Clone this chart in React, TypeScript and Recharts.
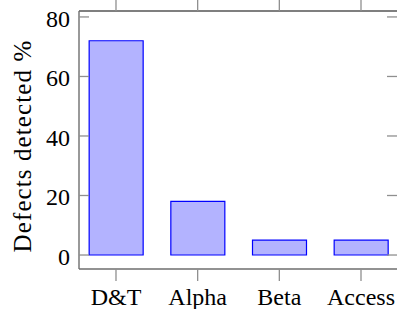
import React from "react";
import { BarChart, Bar, XAxis, YAxis } from "recharts";

const categories = ["D&T", "Alpha", "Beta", "Access"];
const defectsDetected = [72, 18, 5, 5];
const xPositions = [0, 1, 2, 3];
const yTicks = [0, 20, 40, 60, 80];

const data = categories.map((name, i) => ({ pos: xPositions[i], name, value: defectsDetected[i] }));

const FONT = '"Liberation Serif", "Times New Roman", serif';
const AXIS_GRAY = "#6e6e6e";
const TICK_GRAY = "#8f8f8f";

function LeftTick(props: any) {
  const { x, y, payload } = props;
  return (
    <g>
      <line x1={x} y1={y} x2={x + 10} y2={y} stroke={TICK_GRAY} strokeWidth={1.3} />
      <text x={x - 9} y={y + 10} textAnchor="end" fontFamily={FONT} fontSize={24} fill="#000">
        {payload.value}
      </text>
    </g>
  );
}

function RightTick(props: any) {
  const { x, y } = props;
  return <line x1={x - 11} y1={y} x2={x} y2={y} stroke={TICK_GRAY} strokeWidth={1.3} />;
}

function TopTick(props: any) {
  const { x, y } = props;
  return <line x1={x} y1={y} x2={x} y2={y - 11} stroke={TICK_GRAY} strokeWidth={1.3} />;
}

function BottomTick(props: any) {
  const { x, y, payload } = props;
  return (
    <text x={x} y={y + 24} textAnchor="middle" fontFamily={FONT} fontSize={24} fill="#000">
      {categories[payload.value]}
    </text>
  );
}

function YLabel() {
  return (
    <text
      transform="translate(31,146) rotate(-90)"
      textAnchor="middle"
      fontFamily={FONT}
      fontSize={25}
      letterSpacing={1.1}
      fill="#000"
    >
      Defects detected %
    </text>
  );
}

export default function App() {
  return (
    <div style={{ position: "absolute", left: 0, top: 0, width: 397, height: 309, overflow: "hidden", background: "#fff" }}>
      <BarChart width={420} height={309} data={data} margin={{ top: 0, right: 21, bottom: 0, left: 0 }}>
        <XAxis
          xAxisId="bottom"
          dataKey="pos"
          type="number"
          domain={[-0.453, 3.453]}
          ticks={xPositions}
          height={40}
          axisLine={{ stroke: AXIS_GRAY, strokeWidth: 1.4 }}
          tickLine={{ stroke: TICK_GRAY, strokeWidth: 1.3 }}
          tickSize={12}
          tickMargin={0}
          tick={<BottomTick />}
          allowDataOverflow
        />
        <XAxis
          xAxisId="top"
          dataKey="pos"
          type="number"
          orientation="top"
          domain={[-0.453, 3.453]}
          ticks={xPositions}
          height={11}
          axisLine={{ stroke: "#000", strokeWidth: 1.2 }}
          tickLine={false}
          tickSize={0}
          tickMargin={0}
          tick={<TopTick />}
          allowDataOverflow
        />
        <YAxis
          yAxisId="left"
          type="number"
          domain={[-4.7, 82]}
          ticks={yTicks}
          width={79}
          axisLine={{ stroke: AXIS_GRAY, strokeWidth: 1.4 }}
          tickLine={false}
          tickSize={0}
          tickMargin={0}
          tick={<LeftTick />}
          allowDataOverflow
          label={{ content: () => <YLabel /> }}
        />
        <YAxis
          yAxisId="right"
          orientation="right"
          type="number"
          domain={[-4.7, 82]}
          ticks={yTicks}
          width={1}
          axisLine={{ stroke: "#000" }}
          tickLine={false}
          tickSize={0}
          tickMargin={0}
          tick={<RightTick />}
          allowDataOverflow
        />
        <Bar
          xAxisId="bottom"
          yAxisId="left"
          dataKey="value"
          barSize={54}
          fill="#b3b3ff"
          stroke="#0000ff"
          strokeWidth={1.2}
          isAnimationActive={false}
        />
      </BarChart>
    </div>
  );
}
